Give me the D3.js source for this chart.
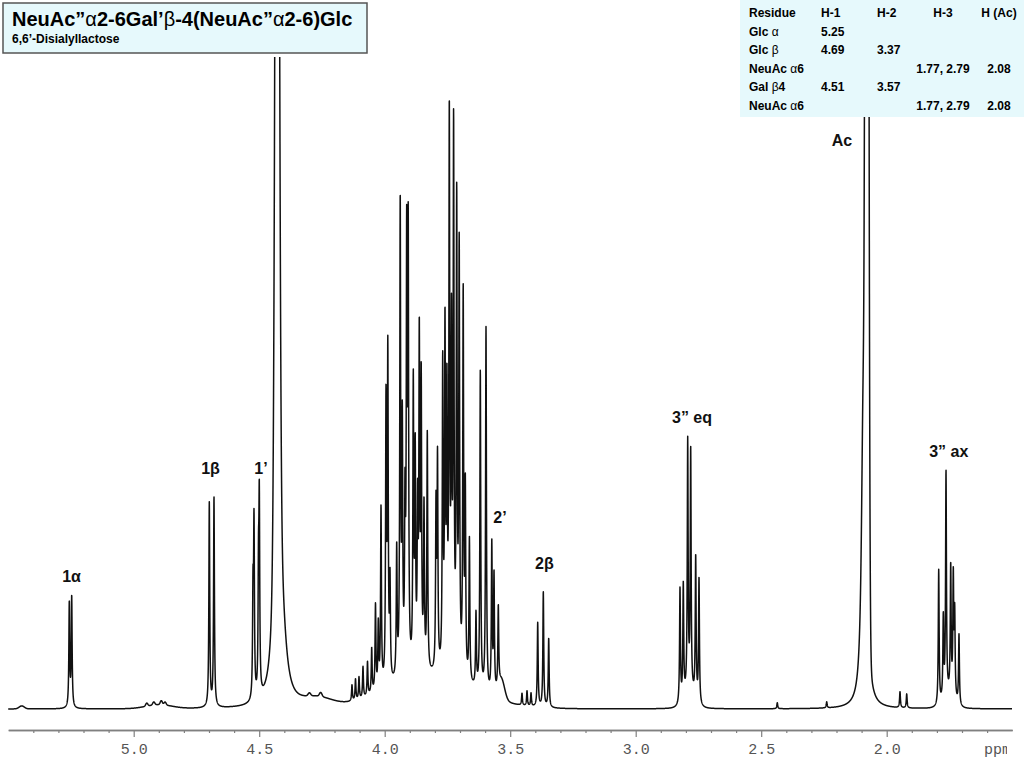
<!DOCTYPE html>
<html>
<head>
<meta charset="utf-8">
<script src="https://cdn.jsdelivr.net/npm/d3@7"></script>
<style>
body { margin: 0; background: #fff; }
svg { display: block; font-family: "Liberation Sans", Arial, sans-serif; }
</style>
</head>
<body>
<div id="chart"></div>
<script>
// Sharp multiplet lines: [ppm, intensity]
var lines = [
    [5.2566, 104], [5.2470, 110],                                   // 1 alpha
    [4.6988, 204], [4.6801, 209],                                   // 1 beta
    [4.5247, 100], [4.5207, 170], [4.5028, 110], [4.4996, 185],     // 1'
    [4.1303, 16], [4.1163, 21], [4.1024, 22], [4.0865, 31], [4.0685, 34],
    [4.0518, 45], [4.0367, 86], [4.0255, 64], [4.0147, 179],
    [3.9948, 277], [3.9876, 326], [3.9789, 97], [3.9522, 128],
    [3.9382, 469], [3.9299, 241], [3.9191, 155], [3.9124, 412], [3.9064, 425],
    [3.8861, 283], [3.8785, 210], [3.8689, 151], [3.8622, 323], [3.8546, 283],
    [3.8434, 160], [3.8303, 237], [3.7956, 160], [3.7896, 207],
    [3.7689, 300], [3.7598, 330], [3.7522, 261], [3.7426, 540], [3.7339, 320],
    [3.7255, 530], [3.7131, 462], [3.7032, 418], [3.6873, 379], [3.6789, 185],
    [3.6625, 143], [3.6363, 73], [3.6191, 318], [3.5964, 364],
    [3.5733, 149], [3.5645, 117], [3.5474, 80],                     // 2'
    [3.453, 12], [3.433, 15], [3.417, 13],
    [3.3904, 84], [3.3681, 115], [3.3466, 69],                      // 2 beta
    [2.8235, 115], [2.8104, 113], [2.7928, 250], [2.7809, 240],
    [2.7610, 142], [2.7478, 125],                                   // 3'' eq
    [2.4359, 6], [2.2390, 6], [1.9470, 16], [1.9203, 14],
    [1.7928, 135], [1.7745, 80], [1.7637, 223], [1.7450, 127],
    [1.7347, 118], [1.7291, 82], [1.7120, 70]                       // 3'' ax
];
var lineWidth = 0.002; // half width at half height, ppm

// Broad components: [ppm, intensity, half width (ppm), shape G/L]
var broad = [
    [5.446, 3, 0.012, "G"],
    [4.90, 4, 0.06, "G"],
    [4.948, 3, 0.005, "G"], [4.920, 3, 0.005, "G"], [4.890, 4, 0.005, "G"], [4.875, 3, 0.005, "G"],
    [4.4283, 800, 0.00876, "G"],   // HOD
    [4.4283, 800, 0.00797, "L"],
    [4.4052, 40, 0.0199, "L"],
    [4.27, 9, 0.07, "G"], [4.30, 3, 0.006, "G"], [4.255, 4, 0.006, "G"],
    [3.82, 30, 0.2, "G"],
    [3.535, 20, 0.015, "G"],
    [2.786, 14, 0.025, "G"],
    [2.0789, 2000, 0.0064, "G"],   // acetyl
    [2.0789, 60, 0.012, "L"],
    [2.0944, 270, 0.008, "L"],
    [1.752, 12, 0.025, "G"]
];

// Peak assignments: label, ppm, intensity of label baseline
var peakNames = ["1α", "1β", "1’", "2’", "2β", "3” eq", "Ac", "3” ax"];
var peakPpm = [5.2478, 4.694, 4.4928, 3.5406, 3.3637, 2.7757, 2.1781, 1.7526];
var peakLevel = [127, 235, 235, 186, 140, 286, 563, 252];

// Axis ticks
var majorTicks = [5.0, 4.5, 4.0, 3.5, 3.0, 2.5, 2.0];
var minorTicks = [5.4, 5.3, 5.2, 5.1, 4.9, 4.8, 4.7, 4.6, 4.4, 4.3, 4.2, 4.1,
    3.9, 3.8, 3.7, 3.6, 3.4, 3.3, 3.2, 3.1, 2.9, 2.8, 2.7, 2.6,
    2.4, 2.3, 2.2, 2.1, 1.9, 1.8, 1.7, 1.6];

// Assignment table
var tableHeader = ["Residue", "H-1", "H-2", "H-3", "H (Ac)"];
var residues = ["Glc α", "Glc β", "NeuAc α6", "Gal β4", "NeuAc α6"];
var h1 = ["5.25", "4.69", "", "4.51", ""];
var h2 = ["", "3.37", "", "3.57", ""];
var h3 = ["", "", "1.77, 2.79", "", "1.77, 2.79"];
var hAc = ["", "", "2.08", "", "2.08"];

var titleText = "NeuAc”α2-6Gal’β-4(NeuAc”α2-6)Glc";
var subtitleText = "6,6’-Disialyllactose";

// SVG area
var svgWidth = 1024;
var svgHeight = 768;

var svg = d3.select("#chart")
    .append("svg")
    .attr("width", svgWidth)
    .attr("height", svgHeight);

// Scales: ppm runs right to left
var xScale = d3.scaleLinear()
    .domain([5.5, 1.5])
    .range([8.2, 1012.2]);

var yScale = d3.scaleLinear()
    .domain([0, 652])
    .range([709, 57]);

// Build the trace from the line list
var grid = d3.range(5.5, 1.5, -0.0004);
var spectrum = grid.map(function(p) {
    var v = 0;
    lines.forEach(function(l) {
        var u = (p - l[0]) / lineWidth;
        v += l[1] / (1 + u * u);
    });
    broad.forEach(function(b) {
        var u = (p - b[0]) / b[2];
        v += b[3] === "L" ? b[1] / (1 + u * u) : b[1] * Math.exp(-Math.LN2 * u * u);
    });
    return {ppm: p, value: v};
});

svg.append("clipPath")
    .attr("id", "plotClip")
    .append("rect")
    .attr("x", 8)
    .attr("y", 57)
    .attr("width", 1004)
    .attr("height", 680);

svg.append("clipPath")
    .attr("id", "unitClip")
    .append("rect")
    .attr("x", 0)
    .attr("y", 700)
    .attr("width", 1007)
    .attr("height", 68);

var line = d3.line()
    .x(d => xScale(d.ppm))
    .y(d => yScale(d.value));

svg.append("path")
    .datum(spectrum)
    .attr("clip-path", "url(#plotClip)")
    .attr("d", line)
    .attr("fill", "none")
    .attr("stroke", "#111")
    .attr("stroke-width", 1.5)
    .attr("stroke-linejoin", "round");

// X axis: minor then major ticks
var axisY = 730;

var minorAxis = d3.axisBottom(xScale)
    .tickValues(minorTicks)
    .tickSize(3)
    .tickSizeOuter(0)
    .tickFormat("");

var majorAxis = d3.axisBottom(xScale)
    .tickValues(majorTicks)
    .tickSize(7)
    .tickSizeOuter(0)
    .tickFormat(d3.format(".1f"));

var gMinor = svg.append("g")
    .attr("transform", `translate(0, ${axisY})`)
    .call(minorAxis);

var gMajor = svg.append("g")
    .attr("transform", `translate(0, ${axisY})`)
    .call(majorAxis);

[gMinor, gMajor].forEach(function(g) {
    g.select(".domain").attr("stroke", "#808080").attr("stroke-width", 1.6);
    g.selectAll(".tick line").attr("stroke", "#808080").attr("stroke-width", 1.2);
});

gMajor.selectAll(".tick text")
    .attr("y", 24)
    .attr("dy", 0)
    .attr("fill", "#555")
    .attr("font-family", "'Liberation Mono', 'DejaVu Sans Mono', monospace")
    .attr("font-size", "15px");

svg.append("text")
    .attr("clip-path", "url(#unitClip)")
    .attr("x", 984)
    .attr("y", axisY + 24)
    .attr("fill", "#555")
    .attr("font-family", "'Liberation Mono', 'DejaVu Sans Mono', monospace")
    .attr("font-size", "15px")
    .text("ppm");

// Peak labels
svg.selectAll("text.peak-label")
    .data(peakNames)
    .enter()
    .append("text")
    .classed("peak-label", true)
    .attr("x", (d, i) => xScale(peakPpm[i]))
    .attr("y", (d, i) => yScale(peakLevel[i]))
    .attr("text-anchor", "middle")
    .attr("font-size", "16px")
    .attr("font-weight", "bold")
    .attr("fill", "#111")
    .text(d => d);

// Greek letters are set lighter, as in the original
function richText(sel, str) {
    str.split(/([αβ])/).forEach(function(part) {
        if (!part) return;
        var t = sel.append("tspan").text(part);
        if (/[αβ]/.test(part)) t.attr("font-weight", "normal");
    });
}

// Title box
svg.append("rect")
    .attr("x", 3)
    .attr("y", 3)
    .attr("width", 364)
    .attr("height", 50)
    .attr("fill", "#e6f9fc")
    .attr("stroke", "#555")
    .attr("stroke-width", 1.5);

var title = svg.append("text")
    .attr("x", 12)
    .attr("y", 26)
    .attr("font-size", "20px")
    .attr("font-weight", "bold")
    .attr("fill", "#000");
richText(title, titleText);

svg.append("text")
    .attr("x", 12)
    .attr("y", 43)
    .attr("font-size", "12px")
    .attr("font-weight", "bold")
    .attr("fill", "#000")
    .text(subtitleText);

// Assignment table
svg.append("rect")
    .attr("x", 740)
    .attr("y", 0)
    .attr("width", 284)
    .attr("height", 117)
    .attr("fill", "#e6f9fc");

var colX = [749, 821, 877, 943, 999];
var colAnchor = ["start", "start", "start", "middle", "middle"];
var rowY = function(i) { return 17 + i * 18.5; };

var tableRows = [tableHeader].concat(residues.map(function(r, i) {
    return [r, h1[i], h2[i], h3[i], hAc[i]];
}));

var table = svg.append("g")
    .attr("font-size", "12px")
    .attr("font-weight", "bold")
    .attr("fill", "#000");

tableRows.forEach(function(row, i) {
    row.forEach(function(cell, j) {
        if (!cell) return;
        var t = table.append("text")
            .attr("x", colX[j])
            .attr("y", rowY(i))
            .attr("text-anchor", colAnchor[j]);
        richText(t, cell);
    });
});
</script>
</body>
</html>
